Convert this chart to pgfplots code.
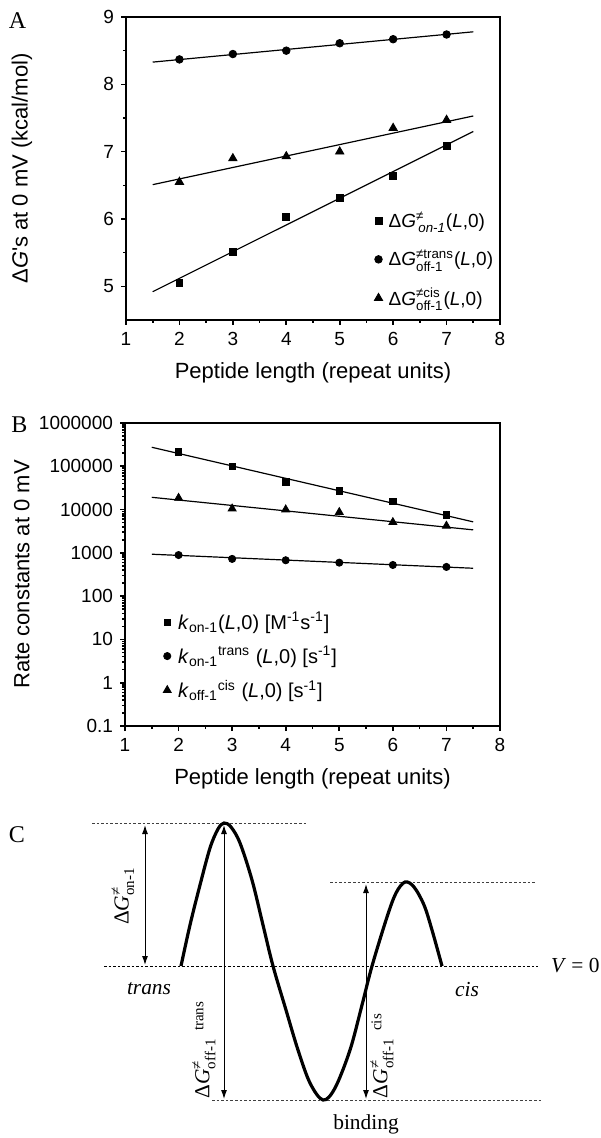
\documentclass[border=0pt]{standalone}
\usepackage{pgfplots}
\pgfplotsset{compat=1.18}
\usepackage{amsmath}
\usepackage{fontspec}
\setmainfont{Liberation Sans}
\newfontfamily\serif{Liberation Serif}
\usetikzlibrary{arrows.meta}

\pgfplotsset{
  panel/.style={
    scale only axis,
    width=187pt, height=151.5pt,
    anchor=north west,
    xmin=1, xmax=8, xtick={1,...,8},
    minor x tick num=1,
    tick pos=left,
    tick align=outside,
    axis line style={line width=1pt},
    major tick length=2.5pt, minor tick length=1.5pt,
    every tick/.style={black, line width=0.8pt},
    tick label style={font=\fontsize{9.5}{11}\selectfont},
    label style={font=\fontsize{11}{13}\selectfont},
    /pgf/number format/assume math mode=true,
    xlabel={Peptide length (repeat units)},
    xlabel style={at={(axis description cs:0.5,-0.175)}, anchor=center},
    legend cell align=left,
    legend image code/.code={\draw[##1] plot coordinates {(0pt,0pt)};},
    clip=false,
  },
  fit/.style={black, line width=0.6pt, no marks, forget plot},
  sq/.style={only marks, mark=square*, mark size=1.7pt, black},
  ci/.style={only marks, mark=*, mark size=1.9pt, black},
  tr/.style={only marks, mark=triangle*, mark size=2.4pt, black},
}

\begin{document}
\begin{tikzpicture}
\useasboundingbox (0,0) rectangle (300pt,-569pt);

% ---- A ----
\begin{axis}[panel, at={(63pt,-8.5pt)},
  ymin=4.5, ymax=9, ytick={5,6,7,8,9}, minor y tick num=1,
  ylabel={Δ\textit{G}\textquotesingle s at 0 mV (kcal/mol)},
  ylabel style={at={(axis description cs:-0.278,0.5)}, anchor=center},
  legend style={draw=none, fill=none, at={(0.663,0.372)}, anchor=north west,
    font=\fontsize{9.5}{11.5}\selectfont, inner sep=0pt, row sep=5.5pt,
    /tikz/every odd column/.style={column sep=1pt}},
]
\addplot[sq] coordinates {(2,5.05)(3,5.51)(4,6.03)(5,6.31)(6,6.64)(7,7.09)};
\addlegendentry{Δ\textit{G}$^{\text{≠}}_{\text{\,\textit{on-1}}}$(\textit{L},0)}
\addplot[ci] coordinates {(2,8.37)(3,8.45)(4,8.50)(5,8.61)(6,8.67)(7,8.74)};
\addlegendentry{Δ\textit{G}$^{\text{≠trans}}_{\text{off-1}}$(\textit{L},0)}
\addplot[tr] coordinates {(2,6.55)(3,6.90)(4,6.93)(5,7.00)(6,7.35)(7,7.47)};
\addlegendentry{Δ\textit{G}$^{\text{≠cis}}_{\text{off-1}}$(\textit{L},0)}
\addplot[fit] coordinates {(1.5,4.92)(7.5,7.30)};
\addplot[fit] coordinates {(1.5,8.33)(7.5,8.78)};
\addplot[fit] coordinates {(1.5,6.51)(7.5,7.53)};
\end{axis}

% ---- B ----
\begin{axis}[panel, at={(62.5pt,-211.5pt)}, width=187.5pt,
  ymode=log, ymin=0.1, ymax=1000000,
  ytick={0.1,1,10,100,1000,10000,100000,1000000},
  yticklabels={0.1,1,10,100,1000,10000,100000,1000000},
  minor ytick={0.2,0.3,0.4,0.5,0.6,0.7,0.8,0.9,
    2,3,4,5,6,7,8,9,20,30,40,50,60,70,80,90,
    200,300,400,500,600,700,800,900,2000,3000,4000,5000,6000,7000,8000,9000,
    20000,30000,40000,50000,60000,70000,80000,90000,
    200000,300000,400000,500000,600000,700000,800000,900000},
  ylabel={Rate constants at 0 mV},
  ylabel style={at={(axis description cs:-0.275,0.5)}, anchor=center},
  legend style={draw=none, fill=none, at={(0.101,0.39)}, anchor=north west,
    font=\fontsize{10}{12}\selectfont, inner sep=0pt, row sep=3pt,
    /tikz/every odd column/.style={column sep=1.5pt}},
]
\addplot[sq, mark size=1.6pt] coordinates {(2,217000)(3,100000)(4,44000)(5,27000)(6,15500)(7,7500)};
\addlegendentry{\textit{k}$_{\text{on-1}}$(\textit{L},0) [M$^{\text{-1}}$s$^{\text{-1}}$]}
\addplot[ci, mark size=1.8pt] coordinates {(2,890)(3,725)(4,675)(5,594)(6,525)(7,473)};
\addlegendentry{\textit{k}$_{\text{on-1}}{}^{\text{trans}}$ (\textit{L},0) [s$^{\text{-1}}$]}
\addplot[tr, mark size=2.3pt] coordinates {(2,18500)(3,10500)(4,10000)(5,8700)(6,5100)(7,4200)};
\addlegendentry{\textit{k}$_{\text{off-1}}{}^{\text{cis}}$ (\textit{L},0) [s$^{\text{-1}}$]}
\addplot[fit] coordinates {(1.5,275000)(7.5,5200)};
\addplot[fit] coordinates {(1.5,930)(7.5,441)};
\addplot[fit] coordinates {(1.5,19200)(7.5,3400)};
\end{axis}

% ---- C (pixel frame over the whole figure) ----
\begin{axis}[at={(0pt,0pt)}, anchor=north west, scale only axis,
  width=300pt, height=569pt, xmin=0, xmax=600, ymin=0, ymax=1138,
  y dir=reverse, hide axis, clip=false]
\addplot[black!75, line width=0.5pt, dash pattern=on 1.3pt off 1pt] coordinates {(92,823)(306,823)};
\addplot[black!75, line width=0.5pt, dash pattern=on 1.3pt off 1pt] coordinates {(330,882)(535,882)};
\addplot[black, line width=0.5pt, dash pattern=on 1.3pt off 1pt] coordinates {(104,966)(538,966)};
\addplot[black!75, line width=0.5pt, dash pattern=on 1.3pt off 1pt] coordinates {(212,1100)(542,1100)};
\addplot[black, line width=1.6pt, smooth, tension=0.55] coordinates {
  (181,966)(190,925)(200,885)(210,848)(218,829)(224,823)(231,827)(240,843)
  (252,880)(263,925)(273,966)(286,1010)(298,1050)(310,1083)(323,1100)
  (335,1088)(350,1050)(362,1005)(372,966)(387,917)(396,893)(405,882)
  (414,887)(424,905)(432,930)(442,966)};
\addplot[black, line width=0.5pt, {Latex[length=4.5pt,width=3pt]}-{Latex[length=4.5pt,width=3pt]}] coordinates {(145,825)(145,965)};
\addplot[black, line width=0.5pt, {Latex[length=4.5pt,width=3pt]}-{Latex[length=4.5pt,width=3pt]}] coordinates {(224,825)(224,1099)};
\addplot[black, line width=0.5pt, {Latex[length=4.5pt,width=3pt]}-{Latex[length=4.5pt,width=3pt]}] coordinates {(366,884)(366,1099)};
\begin{scope}[font=\serif\fontsize{10.7}{12}\selectfont]
\node at (axis cs:17.5,20.5) {\fontsize{12}{14}\selectfont A};
\node at (axis cs:19.5,425) {\fontsize{12}{14}\selectfont B};
\node at (axis cs:17,835) {\fontsize{12}{14}\selectfont C};
\node[rotate=90] at (axis cs:123,896) {Δ\textit{G}$^{\text{≠}}_{\text{on-1}}$};
\node[rotate=90] at (axis cs:204,1050) {Δ\textit{G}$^{\text{≠}}_{\text{off-1}}$\raisebox{0.6ex}{\fontsize{7.5}{9}\selectfont\ \ trans}};
\node[rotate=90] at (axis cs:382,1056) {Δ\textit{G}$^{\text{≠}}_{\text{off-1}}$\raisebox{0.6ex}{\fontsize{7.5}{9}\selectfont\ \ cis}};
\node at (axis cs:149,989) {\textit{trans}};
\node at (axis cs:467,989) {\textit{cis}};
\node[anchor=east, inner sep=0pt] at (axis cs:600,966) {\textit{V} = 0};
\node at (axis cs:366,1124) {binding};
\end{scope}
\end{axis}
\end{tikzpicture}
\end{document}
